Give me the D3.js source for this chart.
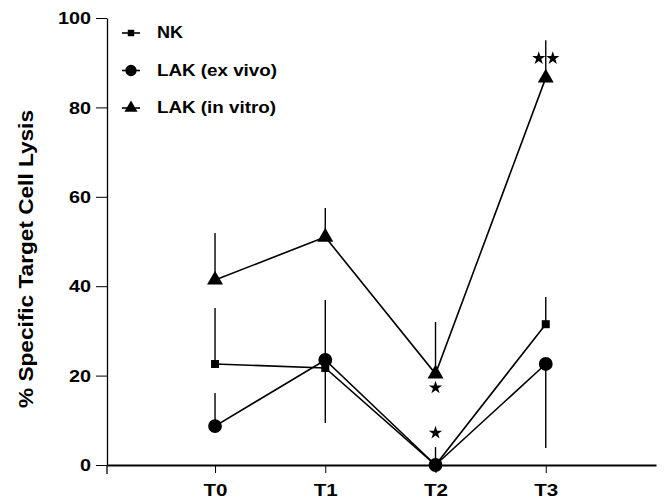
<!DOCTYPE html>
<html>
<head>
<meta charset="utf-8">
<script src="https://cdn.jsdelivr.net/npm/d3@7"></script>
<style>
  body { margin: 0; background: #fff; }
  svg { display: block; font-family: "Liberation Sans", Arial, sans-serif; }
</style>
</head>
<body>
<div class="container"></div>
<script>
// time points
var timePoints = ["T0", "T1", "T2", "T3"];

// % specific target cell lysis
var nkValues     = [22.6, 21.7, 0, 31.5];
var exVivoValues = [8.7, 23.5, 0, 22.6];
var inVitroValues = [41.4, 51, 20.4, 86.6];

// one-sided error bars: the end value of each bar
var nkErrEnd      = [35.1, 9.4, 0, 37.6];
var exVivoErrEnd  = [16.1, 36.9, 4.0, 3.8];
var inVitroErrEnd = [51.9, 57.5, 32, 95];

// significance stars: time index, value, count
var starIndex = [2, 2, 3];
var starValue = [17.3, 7.2, 91];
var starCount = [1, 1, 2];

var yTicks = [0, 20, 40, 60, 80, 100];

const WIDTH = 664;
const HEIGHT = 504;

var svg = d3.select('.container').append('svg')
    .attr('width', WIDTH)
    .attr('height', HEIGHT);

var x = d3.scaleLinear().domain([-0.98, 4]).range([107, 656]);
var y = d3.scaleLinear().domain([0, 100]).range([465, 18]);

var translate = function (a, b) { return "translate(" + a + "," + b + ")"; };

// axes
var yAxis = d3.axisLeft(y).tickValues(yTicks).tickSize(11).tickSizeOuter(0).tickPadding(5);
var gy = svg.append('g').attr('transform', translate(107, 0)).call(yAxis);
gy.select('.domain').attr('stroke-width', 1.3);
gy.selectAll('.tick line').attr('stroke-width', 1);
gy.selectAll('.tick text')
    .attr('font-size', 16).attr('font-weight', 'bold').attr('fill', '#000')
    .attr('dy', '0.36em')
    .attr('textLength', function (d) { return String(d).length * 11; })
    .attr('lengthAdjust', 'spacingAndGlyphs');
svg.append('line')
    .attr('x1', 107).attr('x2', 107).attr('y1', y(0)).attr('y2', y(0) + 9)
    .attr('stroke', '#000').attr('stroke-width', 1.3);

var xAxis = d3.axisBottom(x).tickValues([0, 1, 2, 3])
    .tickFormat(function (d) { return timePoints[d]; })
    .tickSize(8).tickSizeOuter(0).tickPadding(12);
var gx = svg.append('g').attr('transform', translate(0, y(0))).call(xAxis);
gx.select('.domain').attr('stroke-width', 2);
gx.selectAll('.tick text')
    .attr('font-size', 16).attr('font-weight', 'bold').attr('fill', '#000')
    .attr('textLength', 24).attr('lengthAdjust', 'spacingAndGlyphs');

// y label
svg.append('text')
    .attr('transform', translate(33, 259) + ' rotate(-90)')
    .attr('text-anchor', 'middle')
    .attr('font-size', 21)
    .attr('font-weight', 'bold')
    .attr('textLength', 298)
    .attr('lengthAdjust', 'spacingAndGlyphs')
    .text('% Specific Target Cell Lysis');

var series = [
  { name: "NK", values: nkValues, err: nkErrEnd, symbol: d3.symbolSquare, size: 64, legSize: 42 },
  { name: "LAK (ex vivo)", values: exVivoValues, err: exVivoErrEnd, symbol: d3.symbolCircle, size: 150, legSize: 100 },
  { name: "LAK (in vitro)", values: inVitroValues, err: inVitroErrEnd, symbol: d3.symbolTriangle, size: 110, legSize: 75 }
];

var line = d3.line()
    .x(function (d, i) { return x(i); })
    .y(function (d) { return y(d); });

var g = svg.append('g');

// error bars
series.forEach(function (s) {
  g.selectAll(null).data(s.values).enter().append('line')
      .attr('x1', function (d, i) { return x(i); })
      .attr('x2', function (d, i) { return x(i); })
      .attr('y1', function (d) { return y(d); })
      .attr('y2', function (d, i) { return y(s.err[i]); })
      .attr('stroke', '#000').attr('stroke-width', 1.4);
});

// lines
series.forEach(function (s) {
  g.append('path').datum(s.values)
      .attr('d', line)
      .attr('fill', 'none').attr('stroke', '#000').attr('stroke-width', 1.6);
});

// markers
series.forEach(function (s) {
  var shape = d3.symbol().type(s.symbol).size(s.size);
  g.selectAll(null).data(s.values).enter().append('path')
      .attr('d', shape)
      .attr('transform', function (d, i) { return translate(x(i), y(d)); })
      .attr('fill', '#000');
});

// significance stars
var star = d3.symbol().type(d3.symbolStar).size(55);
starIndex.forEach(function (idx, k) {
  var n = starCount[k];
  for (var j = 0; j < n; j++) {
    var off = n === 1 ? 0 : (j === 0 ? -7 : 7);
    svg.append('path')
        .attr('d', star)
        .attr('transform', translate(x(idx) + off, y(starValue[k])))
        .attr('fill', '#000');
  }
});

// legend
var legend = svg.append('g').attr('transform', translate(131, 33));
series.forEach(function (s, i) {
  var row = legend.append('g').attr('transform', translate(0, i * 37.5));
  row.append('line').attr('x1', -9).attr('x2', 9).attr('stroke', '#000').attr('stroke-width', 1.6);
  row.append('path').attr('d', d3.symbol().type(s.symbol).size(s.legSize)).attr('fill', '#000');
  row.append('text')
      .attr('x', 26).attr('y', 5)
      .attr('font-size', 16).attr('font-weight', 'bold')
      .attr('textLength', [26, 120, 119][i])
      .attr('lengthAdjust', 'spacingAndGlyphs')
      .text(s.name);
});
</script>
</body>
</html>
